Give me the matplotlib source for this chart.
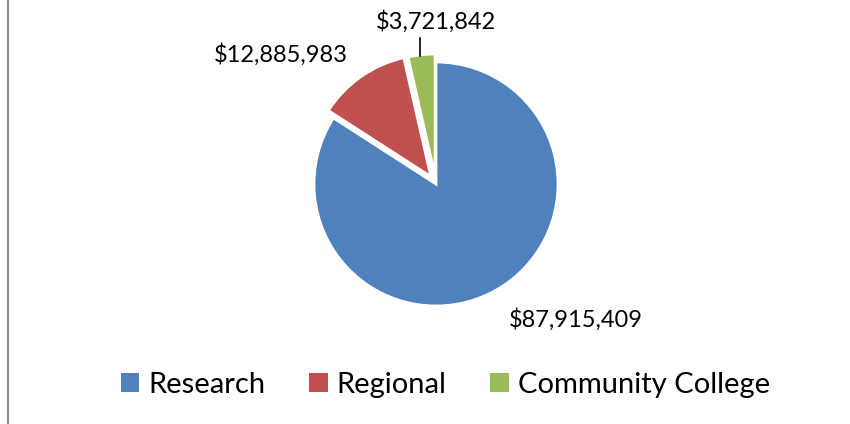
import matplotlib.pyplot as plt
from matplotlib.patches import Patch

# Dados
categorias = ['Research', 'Regional', 'Community College']
valores = [87915409, 12885983, 3721842]
rotulos = ['$87,915,409', '$12,885,983', '$3,721,842']
cores = ['#4F81BD', '#C0504D', '#9BBB59']
destaque = [0, 9, 8]  # deslocamento em pixels (explode não é escalado pelo raio)

plt.rcParams['font.family'] = ['Lato', 'DejaVu Sans']

fig = plt.figure(figsize=(8.5, 4.24), dpi=100)
ax = fig.add_axes([0, 0, 1, 1])

# Pizza em coordenadas de pixel (y para cima)
wedges, _ = ax.pie(valores, colors=cores, startangle=90, counterclock=False,
                   center=(436, 240), radius=122, explode=destaque,
                   wedgeprops=dict(edgecolor='white', linewidth=2))
ax.set_xlim(0, 850)
ax.set_ylim(0, 424)
ax.set_aspect('equal')
ax.axis('off')

# Rótulos de valores
ax.text(576, 104, rotulos[0], fontsize=17, ha='center', va='center')
ax.text(281, 369, rotulos[1], fontsize=17, ha='center', va='center')
ax.text(436, 402, rotulos[2], fontsize=17, ha='center', va='center')
ax.plot([420, 420], [368, 386], color='black', linewidth=1.2)

# Borda esquerda
ax.plot([8, 8], [0, 424], color='#8C8C8C', linewidth=1.5)

# Legenda
handles = [Patch(facecolor=c, edgecolor='none') for c in cores]
fig.legend(handles, categorias, loc='center', bbox_to_anchor=(0.524, 0.092),
           ncol=3, frameon=False, fontsize=21, handlelength=0.65,
           handleheight=0.65, handletextpad=0.3, columnspacing=1.5)

fig.savefig('out.png', dpi=100)
